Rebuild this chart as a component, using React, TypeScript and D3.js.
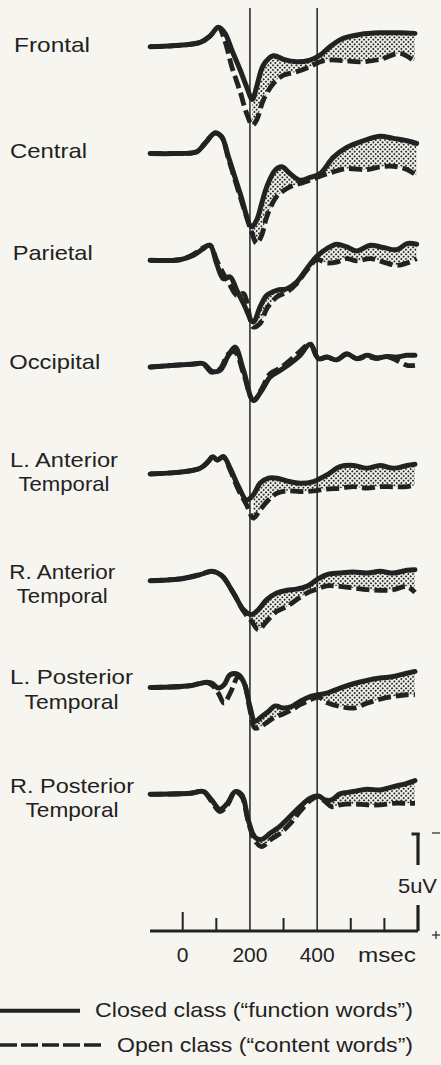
import React from "react";
import * as d3 from "d3";

// ---------- DATA (time in ms, amplitude in µV, positive = down) ----------
const channelNames = [
  ["Frontal"],
  ["Central"],
  ["Parietal"],
  ["Occipital"],
  ["L. Anterior", "Temporal"],
  ["R. Anterior", "Temporal"],
  ["L. Posterior", "Temporal"],
  ["R. Posterior", "Temporal"],
];

const frontalTimes = [-97, -28, 52, 81, 106, 126, 146, 171, 190, 207, 220, 240, 270, 300, 339, 379, 409, 438, 478, 528, 587, 647, 691];
const frontalClosed = [0, -0.05, -0.22, -0.54, -0.99, -0.68, 0.17, 1.19, 2.04, 2.69, 2.04, 0.94, 0.46, 0.65, 0.77, 0.68, 0.43, 0, -0.43, -0.63, -0.71, -0.71, -0.68];
const frontalOpen = [0, -0.05, -0.22, -0.54, -0.99, -0.26, 1.02, 2.3, 3.4, 4.0, 3.74, 2.72, 1.87, 1.45, 1.28, 1.02, 0.77, 0.68, 0.71, 0.77, 0.65, 0.34, 0.77];

const centralTimes = [-97, -28, 42, 66, 96, 116, 136, 171, 205, 220, 235, 250, 275, 295, 319, 349, 379, 409, 448, 488, 548, 587, 627, 667, 696];
const centralClosed = [0, 0, -0.09, -0.51, -1.05, -0.85, 0.17, 2.04, 3.74, 3.4, 2.55, 1.7, 0.85, 0.68, 1.02, 1.36, 1.22, 1.02, 0.2, -0.31, -0.71, -0.88, -0.77, -0.65, -0.51];
const centralOpen = [0, 0, -0.09, -0.51, -1.05, -0.85, 0.26, 2.21, 4.0, 4.59, 4.17, 3.23, 2.3, 1.96, 1.7, 1.53, 1.36, 1.16, 0.94, 0.77, 0.82, 0.68, 0.65, 0.82, 1.11];

const parietalTimes = [-97, -8, 32, 57, 81, 101, 121, 141, 161, 181, 210, 230, 250, 280, 310, 339, 369, 399, 429, 458, 488, 518, 558, 597, 637, 667, 696];
const parietalClosed = [0, -0.03, -0.26, -0.54, -0.77, 0.17, 0.94, 0.85, 1.53, 2.21, 3.15, 2.38, 1.79, 1.53, 1.45, 1.11, 0.43, -0.2, -0.6, -0.82, -0.68, -0.48, -0.77, -0.65, -0.54, -0.85, -0.82];
const parietalOpen = [0, -0.03, -0.31, -0.6, -0.77, 0, 0.68, 1.28, 1.79, 1.7, 3.4, 3.23, 2.47, 1.87, 1.62, 1.19, 0.51, -0.03, 0.14, 0.09, -0.09, 0.03, -0.09, 0.09, 0.26, 0.14, -0.09];

const occipitalTimes = [-97, 22, 62, 86, 111, 136, 156, 181, 210, 235, 260, 290, 319, 349, 379, 404, 429, 458, 488, 518, 548, 577, 607, 637, 667, 691];
const occipitalClosed = [0, -0.14, -0.17, 0.2, 0.17, -0.6, -1.02, 0.17, 1.7, 1.19, 0.51, 0.17, -0.17, -0.6, -1.16, -0.43, -0.51, -0.37, -0.68, -0.43, -0.6, -0.48, -0.54, -0.51, -0.6, -0.6];
const occipitalOpen = [0, -0.14, -0.14, 0.26, 0.09, -0.68, -0.77, 0.34, 1.7, 1.11, 0.34, 0.05, -0.35, -0.8, -1.2, -0.43, -0.51, -0.37, -0.65, -0.43, -0.54, -0.43, -0.54, -0.34, -0.09, -0.09];

const lAntTimes = [-97, -8, 52, 76, 89, 103, 121, 141, 166, 190, 210, 230, 255, 280, 310, 349, 389, 429, 468, 508, 548, 587, 627, 667, 691];
const lAntClosed = [0, -0.09, -0.29, -0.63, -0.88, -0.71, -0.88, -0.29, 0.65, 1.33, 1.07, 0.48, 0.22, 0.22, 0.36, 0.48, 0.39, 0.05, -0.37, -0.43, -0.29, -0.43, -0.29, -0.43, -0.49];
const lAntOpen = [0, -0.09, -0.29, -0.63, -0.88, -0.71, -0.88, -0.2, 0.82, 1.58, 2.26, 1.84, 1.33, 0.99, 0.87, 0.9, 0.87, 0.77, 0.73, 0.65, 0.73, 0.65, 0.66, 0.65, 0.56];

const rAntTimes = [-97, -8, 52, 86, 116, 151, 181, 205, 225, 250, 280, 310, 339, 369, 399, 429, 468, 508, 548, 587, 627, 667, 691];
const rAntClosed = [0, -0.09, -0.31, -0.48, -0.26, 0.63, 1.48, 1.73, 1.48, 0.97, 0.63, 0.49, 0.43, 0.29, -0.05, -0.31, -0.39, -0.44, -0.39, -0.48, -0.39, -0.53, -0.56];
const rAntOpen = [0, -0.09, -0.31, -0.48, -0.26, 0.63, 1.56, 2.07, 2.5, 2.07, 1.56, 1.31, 0.97, 0.63, 0.43, 0.26, 0.29, 0.37, 0.46, 0.49, 0.46, 0.29, 0.6];

const lPostTimes = [-97, 22, 66, 86, 106, 123, 141, 166, 183, 200, 215, 235, 255, 275, 300, 324, 349, 379, 404, 429, 468, 508, 548, 587, 627, 667, 691];
const lPostClosed = [0, -0.09, -0.26, -0.22, 0.03, -0.14, -0.65, -0.65, -0.22, 0.97, 1.73, 1.48, 1.22, 0.94, 1.05, 0.97, 0.71, 0.46, 0.37, 0.29, 0.03, -0.19, -0.36, -0.48, -0.56, -0.73, -0.82];
const lPostOpen = [0, -0.09, -0.26, -0.14, 0.29, 0.8, 0.29, -0.56, -0.22, 1.14, 2.07, 1.96, 1.73, 1.51, 1.34, 1.14, 0.88, 0.63, 0.49, 0.77, 0.97, 1.05, 0.8, 0.6, 0.46, 0.37, 0.37];

const rPostTimes = [-97, 22, 62, 86, 111, 133, 156, 176, 195, 215, 235, 260, 290, 319, 349, 379, 404, 424, 443, 468, 508, 548, 587, 627, 667, 691];
const rPostClosed = [0, -0.05, -0.14, 0.29, 0.77, 0.46, -0.14, 0.03, 1.31, 2.19, 2.3, 1.99, 1.62, 1.14, 0.63, 0.2, 0.09, 0.29, 0.29, -0.02, -0.14, -0.26, -0.22, -0.39, -0.56, -0.7];
const rPostOpen = [0, -0.05, -0.14, 0.37, 0.88, 0.54, -0.14, 0.12, 1.39, 2.36, 2.67, 2.33, 1.99, 1.51, 0.88, 0.32, 0.12, 0.37, 0.63, 0.54, 0.49, 0.54, 0.54, 0.46, 0.46, 0.46];

const shadedChannels = [true, true, true, false, true, true, true, true];
const shadeFromMs = 200;

const markerTimes = [200, 400];
const tickTimes = [0, 100, 300, 500, 600];
const tickLabels = [
  { t: 0, label: "0" },
  { t: 200, label: "200" },
  { t: 400, label: "400" },
];
const scaleBarMicroVolts = 5;
const legendItems = [
  "Closed class (\u201Cfunction words\u201D)",
  "Open class (\u201Ccontent words\u201D)",
];

const seriesTimes = [frontalTimes, centralTimes, parietalTimes, occipitalTimes, lAntTimes, rAntTimes, lPostTimes, rPostTimes];
const seriesClosed = [frontalClosed, centralClosed, parietalClosed, occipitalClosed, lAntClosed, rAntClosed, lPostClosed, rPostClosed];
const seriesOpen = [frontalOpen, centralOpen, parietalOpen, occipitalOpen, lAntOpen, rAntOpen, lPostOpen, rPostOpen];

// ---------- LAYOUT ----------
const W = 441;
const H = 1065;
const INK = "#222222";
const FONT = "'Liberation Sans', Arial, Helvetica, sans-serif";
const baseline0 = 46.7;
const channelStep = 106.8;
const axisY = 931;
const lineTop = 8;

const labelLayout = [
  { x: 14, y: 52, w: [76] },
  { x: 10, y: 158.3, w: [77] },
  { x: 12.7, y: 259.5, w: [80] },
  { x: 9.3, y: 368.5, w: [91] },
  { cx: 64, y: 466.7, y2: 490.5, w: [108, 91] },
  { cx: 62.3, y: 578.5, y2: 602.5, w: [106, 91] },
  { cx: 71.5, y: 683.5, y2: 709.3, w: [123, 94] },
  { cx: 72, y: 792.7, y2: 817, w: [124, 93] },
];

export default function App() {
  const x = d3.scaleLinear().domain([-100, 700]).range([149.1, 418]);
  const amp = d3.scaleLinear().domain([0, scaleBarMicroVolts]).range([0, 98]);

  const channels = channelNames.map((names, i) => {
    const base = baseline0 + i * channelStep;
    const pts = seriesTimes[i].map((t, j) => ({
      t,
      c: seriesClosed[i][j],
      o: seriesOpen[i][j],
    }));
    const curve = d3.curveCatmullRom.alpha(0.5);
    const closedLine = d3
      .line<any>()
      .x((d) => x(d.t))
      .y((d) => base + amp(d.c))
      .curve(curve)(pts);
    const openLine = d3
      .line<any>()
      .x((d) => x(d.t))
      .y((d) => base + amp(d.o))
      .curve(curve)(pts);
    const shadePts = pts.filter((d) => d.t >= shadeFromMs);
    const area = shadedChannels[i]
      ? d3
          .area<any>()
          .x((d) => x(d.t))
          .y0((d) => base + amp(d.c))
          .y1((d) => base + amp(d.o))
          .curve(curve)(shadePts)
      : null;
    return { names, closedLine, openLine, area };
  });

  const barX = x(700);
  const textStyle: React.CSSProperties = { fontFamily: FONT, fill: INK };

  return (
    <svg
      width={W}
      height={H}
      viewBox={`0 0 ${W} ${H}`}
      style={{ position: "absolute", left: 0, top: 0, display: "block" }}
    >
      <defs>
        <pattern
          id="stipple"
          width="3.3"
          height="3.3"
          patternUnits="userSpaceOnUse"
          patternTransform="rotate(45)"
        >
          <circle cx="1.65" cy="1.65" r="1.05" fill="#2a2a2a" />
        </pattern>
      </defs>
      <rect x={0} y={0} width={W} height={H} fill="#f7f5f0" />

      {markerTimes.map((t) => (
        <line
          key={t}
          x1={x(t)}
          x2={x(t)}
          y1={lineTop}
          y2={axisY}
          stroke={INK}
          strokeWidth={1.5}
        />
      ))}

      {channels.map((ch, i) => {
        const L: any = labelLayout[i];
        if (ch.names.length === 1) {
          return (
            <text
              key={"l" + i}
              x={L.x}
              y={L.y}
              fontSize={21}
              textLength={L.w[0]}
              lengthAdjust="spacingAndGlyphs"
              style={textStyle}
            >
              {ch.names[0]}
            </text>
          );
        }
        return (
          <g key={"l" + i}>
            <text
              x={L.cx - L.w[0] / 2}
              y={L.y}
              fontSize={21}
              textLength={L.w[0]}
              lengthAdjust="spacingAndGlyphs"
              style={textStyle}
            >
              {ch.names[0]}
            </text>
            <text
              x={L.cx - L.w[1] / 2}
              y={L.y2}
              fontSize={21}
              textLength={L.w[1]}
              lengthAdjust="spacingAndGlyphs"
              style={textStyle}
            >
              {ch.names[1]}
            </text>
          </g>
        );
      })}

      {channels.map((ch, i) => (
        <g key={"w" + i}>
          {ch.area && <path d={ch.area} fill="url(#stipple)" stroke="none" />}
          <path
            d={ch.openLine || ""}
            fill="none"
            stroke={INK}
            strokeWidth={4.8}
            strokeDasharray="13 5"
            strokeLinecap="butt"
            strokeLinejoin="round"
          />
          <path
            d={ch.closedLine || ""}
            fill="none"
            stroke={INK}
            strokeWidth={5}
            strokeLinecap="round"
            strokeLinejoin="round"
          />
        </g>
      ))}

      <line x1={150} x2={barX} y1={axisY} y2={axisY} stroke={INK} strokeWidth={3.2} />
      <line x1={x(0)} x2={x(0)} y1={axisY - 19} y2={axisY} stroke={INK} strokeWidth={2} />
      {tickTimes
        .filter((t) => t !== 0)
        .map((t) => (
          <line key={"t" + t} x1={x(t)} x2={x(t)} y1={axisY - 13} y2={axisY} stroke={INK} strokeWidth={2} />
        ))}
      {tickLabels.map((d) => (
        <text
          key={"tl" + d.t}
          x={x(d.t)}
          y={962}
          fontSize={21}
          textAnchor="middle"
          style={textStyle}
        >
          {d.label}
        </text>
      ))}
      <text x={358} y={962} fontSize={21} textLength={58} lengthAdjust="spacingAndGlyphs" style={textStyle}>
        msec
      </text>

      <line x1={barX} x2={barX} y1={axisY - amp(scaleBarMicroVolts)} y2={865} stroke={INK} strokeWidth={3.2} />
      <line x1={barX} x2={barX} y1={905} y2={axisY} stroke={INK} strokeWidth={3.2} />
      <line x1={barX - 6.5} x2={barX + 1.6} y1={axisY - amp(scaleBarMicroVolts) + 1} y2={axisY - amp(scaleBarMicroVolts) + 1} stroke={INK} strokeWidth={3} />
      <line x1={432} x2={440} y1={833} y2={833} stroke={INK} strokeWidth={1.2} />
      <text x={398} y={893} fontSize={21} textLength={39} lengthAdjust="spacingAndGlyphs" style={textStyle}>
        {scaleBarMicroVolts}uV
      </text>
      <line x1={432} x2={440} y1={935} y2={935} stroke={INK} strokeWidth={1.2} />
      <line x1={436} x2={436} y1={931} y2={939} stroke={INK} strokeWidth={1.2} />

      <line x1={0} x2={80} y1={1010.7} y2={1010.7} stroke={INK} strokeWidth={4} />
      <text x={95} y={1017} fontSize={21} textLength={318} lengthAdjust="spacingAndGlyphs" style={textStyle}>
        {legendItems[0]}
      </text>
      <line x1={0} x2={105} y1={1045} y2={1045} stroke={INK} strokeWidth={3.4} strokeDasharray="17 4" />
      <text x={117} y={1052} fontSize={21} textLength={296} lengthAdjust="spacingAndGlyphs" style={textStyle}>
        {legendItems[1]}
      </text>
    </svg>
  );
}
